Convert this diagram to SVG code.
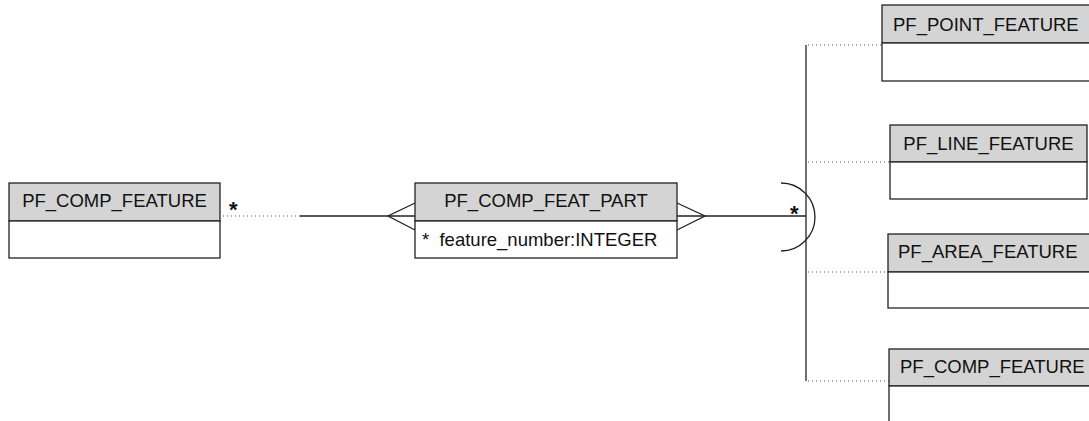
<svg xmlns="http://www.w3.org/2000/svg" width="1089" height="421" viewBox="0 0 1089 421">
<style>
.hdr{fill:#d4d4d4;stroke:#222;stroke-width:1.3}
.body{fill:#fff;stroke:#222;stroke-width:1.3}
.t{font-family:"Liberation Sans",Arial,sans-serif;font-size:18.5px;fill:#111}
.ln{stroke:#222;stroke-width:1.3;fill:none}
.dot{stroke:#555;stroke-width:1;stroke-dasharray:1 3;fill:none}
.star{font-family:"Liberation Sans",Arial,sans-serif;font-size:22px;font-weight:bold;fill:#111}
</style>
<rect width="1089" height="421" fill="#fff"/>
<g id="connectors">
<line class="dot" x1="223" y1="216" x2="300" y2="216"/>
<line class="ln" x1="300" y1="216" x2="415" y2="216"/>
<polyline class="ln" points="415,203 388,216 415,230"/>
<polyline class="ln" points="677,203 705,216 677,230"/>
<line class="ln" x1="677" y1="216" x2="806" y2="216"/>
<line class="ln" x1="806" y1="45" x2="806" y2="381"/>
<path class="ln" d="M781,183 A34,34 0 0 1 781,251"/>
<line class="dot" x1="808" y1="45" x2="882" y2="45"/>
<line class="dot" x1="808" y1="162" x2="890" y2="162"/>
<line class="dot" x1="808" y1="272" x2="888" y2="272"/>
<line class="dot" x1="808" y1="381" x2="889" y2="381"/>
<text class="star" x="229" y="217">*</text>
<text class="star" x="790" y="221">*</text>
</g>
<g id="pf_comp_feature_left">
<rect class="hdr" x="9" y="183" width="211" height="38"/>
<rect class="body" x="9" y="221" width="211" height="37"/>
<text class="t" x="114.5" y="207" text-anchor="middle">PF_COMP_FEATURE</text>
</g>
<g id="pf_comp_feat_part">
<rect class="hdr" x="415" y="183" width="262" height="38"/>
<rect class="body" x="415" y="221" width="262" height="37"/>
<text class="t" x="546" y="207" text-anchor="middle">PF_COMP_FEAT_PART</text>
<text class="t" x="422" y="246" xml:space="preserve">*  feature_number:INTEGER</text>
</g>
<g id="pf_point_feature">
<rect class="hdr" x="882" y="5" width="208" height="38"/>
<rect class="body" x="882" y="43" width="208" height="38"/>
<text class="t" x="893" y="31">PF_POINT_FEATURE</text>
</g>
<g id="pf_line_feature">
<rect class="hdr" x="890" y="125" width="197" height="37"/>
<rect class="body" x="890" y="162" width="197" height="37"/>
<text class="t" x="988.5" y="150" text-anchor="middle">PF_LINE_FEATURE</text>
</g>
<g id="pf_area_feature">
<rect class="hdr" x="888" y="234" width="202" height="38"/>
<rect class="body" x="888" y="272" width="202" height="36"/>
<text class="t" x="898" y="258">PF_AREA_FEATURE</text>
</g>
<g id="pf_comp_feature_right">
<rect class="hdr" x="889" y="349" width="201" height="37"/>
<rect class="body" x="889" y="386" width="201" height="40"/>
<text class="t" x="900" y="373">PF_COMP_FEATURE</text>
</g>
</svg>
